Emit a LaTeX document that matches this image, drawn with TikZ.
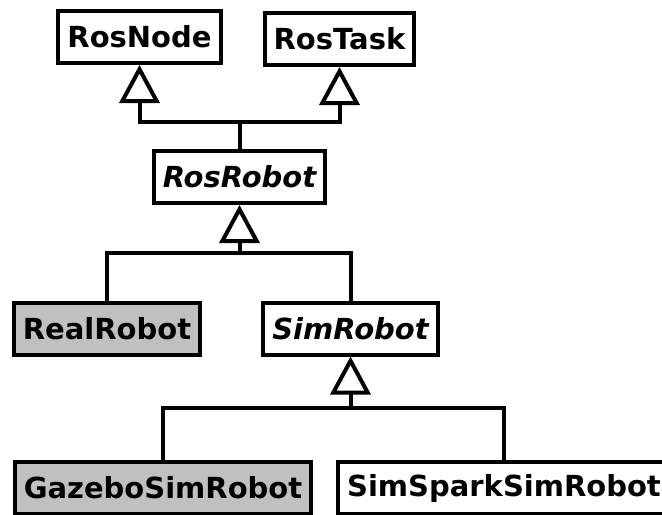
\documentclass[tikz,border=0pt]{standalone}
\usepackage{fontspec}
\setmainfont{DejaVu Sans}
\usetikzlibrary{arrows.meta}
\definecolor{concrete}{RGB}{192,192,192}

\tikzset{
  umlclass/.style={draw, line width=2pt, inner xsep=4.5pt, minimum height=26pt,
    font=\fontsize{14.5}{17}\selectfont\bfseries},
  abstractclass/.style={umlclass, font=\fontsize{14.5}{17}\selectfont\bfseries\itshape},
  concreteclass/.style={umlclass, fill=concrete},
  link/.style={line width=2pt},
  inherit/.style={link, -{Triangle[open, width=20pt, length=19pt]}},
}

\begin{document}
\begin{tikzpicture}[x=0.5pt, y=-0.5pt]
    \useasboundingbox (0,0) rectangle (662,514);

    % Base classes
    \node[umlclass] (rosnode) at (139.5, 37) {RosNode};
    \node[umlclass] (rostask) at (339.5, 39) {RosTask};

    % Abstract robots
    \node[abstractclass] (rosrobot) at (239.5, 177) {RosRobot};
    \node[abstractclass] (simrobot) at (350.5, 328.5) {SimRobot};

    % Leaves
    \node[concreteclass] (realrobot) at (107, 328.5) {RealRobot};
    \node[concreteclass] (gazebo) at (163, 488) {GazeboSimRobot};
    \node[umlclass] (simspark) at (504, 488) {SimSparkSimRobot};

    % Junctions
    \coordinate (j1) at (239.5, 122);
    \coordinate (j2) at (239.5, 253);
    \coordinate (j3) at (350.5, 408);

    % RosRobot -> RosNode, RosTask
    \draw[link] (rosrobot.north) -- (j1);
    \draw[inherit] (j1) -| (rosnode.south);
    \draw[inherit] (j1) -| (rostask.south);

    % RealRobot, SimRobot -> RosRobot
    \draw[link] (simrobot.north) |- (j2);
    \draw[inherit] (realrobot.north) |- (j2) -- (rosrobot.south);

    % GazeboSimRobot, SimSparkSimRobot -> SimRobot
    \draw[link] (simspark.north) |- (j3);
    \draw[inherit] (gazebo.north) |- (j3) -- (simrobot.south);
\end{tikzpicture}
\end{document}
